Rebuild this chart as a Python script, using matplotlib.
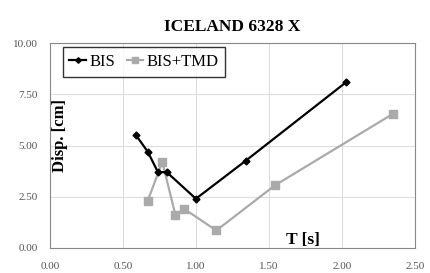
import matplotlib
matplotlib.use("Agg")
import matplotlib.pyplot as plt
from matplotlib.ticker import FormatStrFormatter

# data
bis_T = [0.59, 0.67, 0.74, 0.80, 1.00, 1.34, 2.03]
bis_disp = [5.50, 4.70, 3.70, 3.70, 2.40, 4.25, 8.10]
tmd_T = [0.67, 0.77, 0.86, 0.92, 1.14, 1.54, 2.35]
tmd_disp = [2.30, 4.20, 1.60, 1.90, 0.85, 3.05, 6.55]

plt.rcParams['font.family'] = ['Liberation Serif', 'DejaVu Serif']

fig = plt.figure(figsize=(4.3, 2.73), dpi=100)
ax = fig.add_axes([0.116, 0.092, 0.849, 0.75])

ax.plot(bis_T, bis_disp, color='black', lw=1.6, marker='D', ms=3.5, label='BIS', zorder=3)
ax.plot(tmd_T, tmd_disp, color='#aaaaaa', lw=1.6, marker='s', ms=6, label='BIS+TMD', zorder=2)

ax.set_xlim(0, 2.5)
ax.set_ylim(0, 10)
ax.set_xticks([0, 0.5, 1.0, 1.5, 2.0, 2.5])
ax.set_yticks([0, 2.5, 5.0, 7.5, 10.0])
ax.xaxis.set_major_formatter(FormatStrFormatter('%.2f'))
ax.yaxis.set_major_formatter(FormatStrFormatter('%.2f'))
ax.tick_params(labelsize=8, colors='#555555', length=0)
ax.tick_params(axis='y', pad=9)
ax.tick_params(axis='x', pad=10)
ax.grid(True, color='#dddddd', lw=0.8)
for s in ax.spines.values():
    s.set_color('#888888')

ax.set_title('ICELAND 6328 X', fontsize=12.5, fontweight='bold', pad=9)
ax.text(0.068, 5.5, 'Disp. [cm]', rotation=90, ha='center', va='center',
        fontsize=12, fontweight='bold')
ax.text(1.73, 0.4, 'T [s]', ha='center', va='center', fontsize=12.5, fontweight='bold')

leg = ax.legend(loc='upper left', bbox_to_anchor=(0.012, 1.02), ncol=2, fontsize=12,
                frameon=True, fancybox=False, edgecolor='black', handlelength=1.0,
                handletextpad=0.2, columnspacing=0.7, borderpad=0.4, markerscale=0.8)
leg.get_frame().set_linewidth(1.0)

fig.savefig('out.png', dpi=100)
